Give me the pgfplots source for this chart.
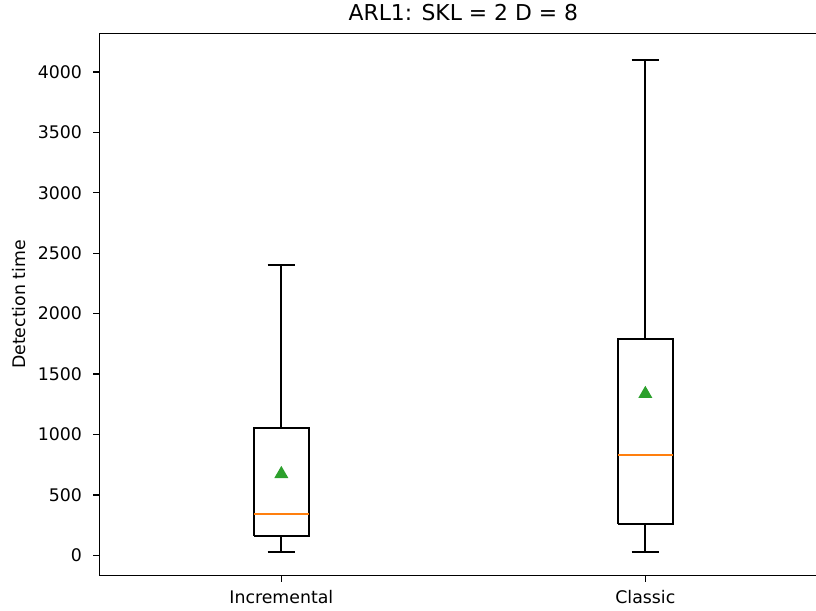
\documentclass[border=0pt]{standalone}
\usepackage{fontspec}
\setmainfont{DejaVu Sans}
\usepackage{pgfplots}
\pgfplotsset{compat=1.18}
\definecolor{mplorange}{HTML}{FF7F0E}
\definecolor{mplgreen}{HTML}{2CA02C}
\begin{document}
\begin{tikzpicture}
\begin{axis}[
  at={(0,0)}, anchor=south west,
  scale only axis, width=546pt, height=406.8pt,
  xmin=0.5, xmax=2.5, ymin=-169, ymax=4320,
  xtick={1,2}, xticklabels={Incremental, Classic},
  ytick={0,500,...,4000},
  tick align=outside, tick pos=left,
  major tick length=4.5pt,
  tick style={line width=1pt, black},
  axis line style={line width=1pt},
  /pgf/number format/assume math mode=true,
  /pgf/number format/set thousands separator={},
  ticklabel style={font=\fontsize{13}{15}\selectfont, text=black},
  yticklabel style={xshift=-5pt},
  xticklabel style={yshift=-3pt},
  title={ARL1: SKL = 2 D = 8},
  title style={font=\fontsize{16.4}{19}\selectfont, text=black},
  ylabel={Detection time},
  ylabel style={font=\fontsize{13}{15}\selectfont, text=black, yshift=2.5pt},
  unbounded coords=jump,
  every axis plot/.append style={line width=1.3pt, mark=none, line join=miter},
]
% Incremental (position 1)
\addplot[black] coordinates {(0.925,157) (1.075,157) (1.075,1052) (0.925,1052) (0.925,157)};
\addplot[black] coordinates {(1,25) (1,157) (1,nan) (1,1052) (1,2400)};
\addplot[black] coordinates {(0.9625,25) (1.0375,25) (1,nan) (0.9625,2400) (1.0375,2400)};
\addplot[mplorange] coordinates {(0.925,342) (1.075,342)};
% Classic (position 2)
\addplot[black] coordinates {(1.925,262) (2.075,262) (2.075,1792) (1.925,1792) (1.925,262)};
\addplot[black] coordinates {(2,30) (2,262) (2,nan) (2,1792) (2,4100)};
\addplot[black] coordinates {(1.9625,30) (2.0375,30) (2,nan) (1.9625,4100) (2.0375,4100)};
\addplot[mplorange] coordinates {(1.925,833) (2.075,833)};
% means
\addplot[only marks, mark=triangle*, mark size=4.8pt, mplgreen, draw=mplgreen]
  coordinates {(1,673) (2,1336)};
\end{axis}
\pgfresetboundingbox
\path[use as bounding box] (-74.5pt,-25.7pt) rectangle (537.5pt,431.8pt);
\end{tikzpicture}
\end{document}
